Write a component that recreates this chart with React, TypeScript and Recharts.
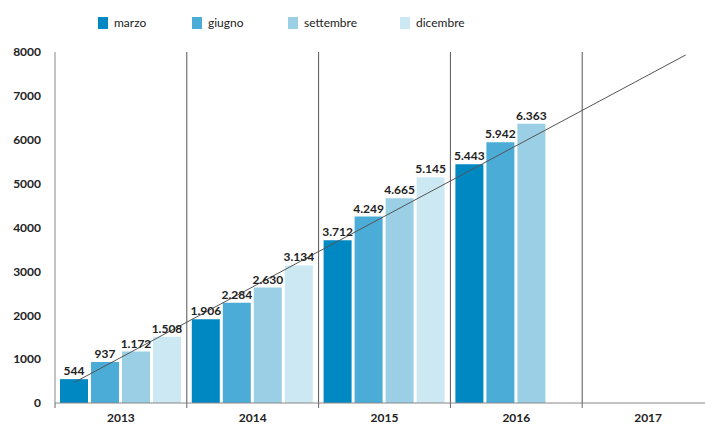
import { ComposedChart, Bar, XAxis, YAxis, LabelList, ReferenceLine, Scatter } from 'recharts';

const YEARS = ['2013', '2014', '2015', '2016', '2017'];
const MARZO = [544, 1906, 3712, 5443, null];
const GIUGNO = [937, 2284, 4249, 5942, null];
const SETTEMBRE = [1172, 2630, 4665, 6363, null];
const DICEMBRE = [1508, 3134, 5145, null, null];

const SERIES = [
    { key: 'marzo', values: MARZO, color: '#0088C3' },
    { key: 'giugno', values: GIUGNO, color: '#4BADD7' },
    { key: 'settembre', values: SETTEMBRE, color: '#9ACFE6' },
    { key: 'dicembre', values: DICEMBRE, color: '#CCE8F3' },
];

const Y_TICKS = [0, 1000, 2000, 3000, 4000, 5000, 6000, 7000, 8000];
// year boundaries on a 0..5 helper axis
const DIVIDERS = [1, 2, 3, 4];
// trend line ends, in (year index, value)
const TREND = [
    { x: 0.148, y: 472 },
    { x: 4.785, y: 7932 },
];

const FONT = 'Lato, "Open Sans", sans-serif';
// legend slot widths
const LEGEND_W = [94, 96, 112, 80];

const data = YEARS.map((year, i) => {
    const row: Record<string, string | number | null> = { year };
    SERIES.forEach(s => { row[s.key] = s.values[i]; });
    return row;
});

const fmt = (v: any) => (v == null ? '' : String(v).replace(/\B(?=(\d{3})+(?!\d))/g, '.'));

function YearTick(props: any) {
    const { x, y, payload } = props;
    const off = payload.offset ?? 0;
    return (
        <g>
            <line x1={x - off} x2={x - off} y1={y - 8} y2={y - 3} stroke="#666" />
            <text x={x} y={y} dy="0.9em" textAnchor="middle" fill="#222" fontSize={12} fontWeight="bold" fontFamily={FONT}>
                {payload.value}
            </text>
        </g>
    );
}

function LegendBox() {
    return (
        <div style={{ position: 'absolute', top: 16, left: 98, display: 'flex', fontFamily: FONT, fontSize: 12, color: '#222', lineHeight: '13px' }}>
            {SERIES.map((s, i) => (
                <div key={s.key} style={{ display: 'flex', alignItems: 'center', width: LEGEND_W[i] }}>
                    <span style={{ width: 10, height: 12, background: s.color, marginRight: 6, display: 'inline-block' }} />
                    <span>{s.key}</span>
                </div>
            ))}
        </div>
    );
}

export default function App() {
    return (
        <div style={{ position: 'fixed', left: 0, top: 0, width: 705, height: 424, overflow: 'hidden', background: '#fff' }}>
            <ComposedChart
                width={714}
                height={424}
                data={data}
                margin={{ top: 52, right: 0, bottom: 0, left: 0 }}
                barGap={3}
                barCategoryGap={5}
            >
                <XAxis
                    xAxisId="cat"
                    dataKey="year"
                    height={21}
                    stroke="#888"
                    tickLine={false}
                    tickSize={5}
                    tickMargin={3}
                    tick={<YearTick />}
                    interval={0}
                />
                <XAxis xAxisId="num" dataKey="x" type="number" domain={[0, 5]} hide />
                <YAxis
                    width={55}
                    domain={[0, 8000]}
                    ticks={Y_TICKS}
                    stroke="#888"
                    tickLine={false}
                    tickSize={0}
                    tickMargin={14}
                    tick={{ fill: '#222', fontSize: 12, fontWeight: 'bold', fontFamily: FONT }}
                />
                {SERIES.map(s => (
                    <Bar key={s.key} xAxisId="cat" dataKey={s.key} fill={s.color} isAnimationActive={false}>
                        <LabelList
                            dataKey={s.key}
                            position="top"
                            offset={4}
                            formatter={fmt}
                            fill="#222"
                            fontSize={12}
                            fontWeight="bold"
                            fontFamily={FONT}
                        />
                    </Bar>
                ))}
                {DIVIDERS.map(d => (
                    <ReferenceLine key={d} xAxisId="num" x={d} stroke="#555" />
                ))}
                <Scatter
                    xAxisId="num"
                    data={TREND}
                    dataKey="y"
                    line={{ stroke: '#555', strokeWidth: 1 }}
                    shape={() => null}
                    isAnimationActive={false}
                />
            </ComposedChart>
            <LegendBox />
        </div>
    );
}
